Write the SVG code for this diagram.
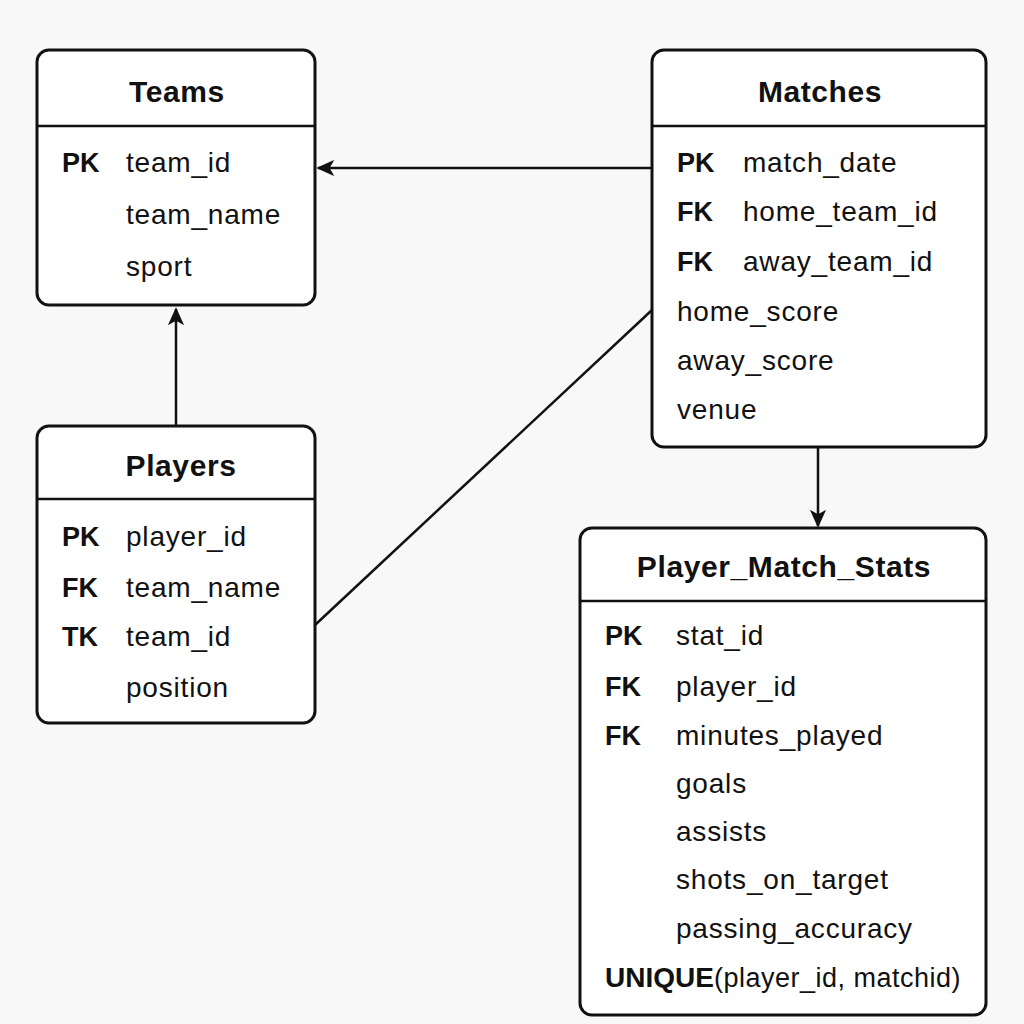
<svg xmlns="http://www.w3.org/2000/svg" width="1024" height="1024" viewBox="0 0 1024 1024">
<style>
.box{fill:#ffffff;stroke:#111;stroke-width:3}
.sep{stroke:#111;stroke-width:2.5}
.title{font-family:"Liberation Sans",Arial,sans-serif;font-weight:bold;font-size:30px;letter-spacing:0.6px;fill:#111;text-anchor:middle}
.key{font-family:"Liberation Sans",Arial,sans-serif;font-weight:bold;font-size:27px;fill:#111}
.f{font-family:"Liberation Sans",Arial,sans-serif;font-size:28px;letter-spacing:0.8px;fill:#111}
.c{stroke:#111;stroke-width:2.5;fill:none}
</style>
<defs>
<marker id="arr" viewBox="0 0 20 20" refX="18" refY="10" markerWidth="18" markerHeight="18" markerUnits="userSpaceOnUse" orient="auto">
<path d="M0,1 L20,10 L0,19 L5,10 Z" fill="#111"/>
</marker>
</defs>
<rect width="1024" height="1024" fill="#f8f8f8"/>
<g id="connectors">
<line class="c" x1="652" y1="168" x2="318" y2="168" marker-end="url(#arr)"/>
<line class="c" x1="176" y1="425" x2="176" y2="309" marker-end="url(#arr)"/>
<line class="c" x1="652" y1="310" x2="315" y2="625"/>
<line class="c" x1="818" y1="447" x2="818" y2="526" marker-end="url(#arr)"/>
</g>
<g id="teams">
<rect class="box" x="37" y="50" width="278" height="255" rx="12"/>
<line class="sep" x1="37" y1="126" x2="315" y2="126"/>
<text class="title" x="177" y="102">Teams</text>
<text class="key" x="62" y="172">PK</text><text class="f" x="126" y="172">team_id</text>
<text class="f" x="126" y="224">team_name</text>
<text class="f" x="126" y="276">sport</text>
</g>
<g id="matches">
<rect class="box" x="652" y="50" width="334" height="397" rx="12"/>
<line class="sep" x1="652" y1="126" x2="986" y2="126"/>
<text class="title" x="820" y="102">Matches</text>
<text class="key" x="677" y="172">PK</text><text class="f" x="743" y="172">match_date</text>
<text class="key" x="677" y="221">FK</text><text class="f" x="743" y="221">home_team_id</text>
<text class="key" x="677" y="271">FK</text><text class="f" x="743" y="271">away_team_id</text>
<text class="f" x="677" y="321">home_score</text>
<text class="f" x="677" y="370">away_score</text>
<text class="f" x="677" y="419">venue</text>
</g>
<g id="players">
<rect class="box" x="37" y="426" width="278" height="297" rx="12"/>
<line class="sep" x1="37" y1="499" x2="315" y2="499"/>
<text class="title" x="181" y="476">Players</text>
<text class="key" x="62" y="546">PK</text><text class="f" x="126" y="546">player_id</text>
<text class="key" x="62" y="597">FK</text><text class="f" x="126" y="597">team_name</text>
<text class="key" x="62" y="646">TK</text><text class="f" x="126" y="646">team_id</text>
<text class="f" x="126" y="697">position</text>
</g>
<g id="player_match_stats">
<rect class="box" x="580" y="528" width="406" height="487" rx="12"/>
<line class="sep" x1="580" y1="601" x2="986" y2="601"/>
<text class="title" x="784" y="577">Player_Match_Stats</text>
<text class="key" x="605" y="645">PK</text><text class="f" x="676" y="645">stat_id</text>
<text class="key" x="605" y="696">FK</text><text class="f" x="676" y="696">player_id</text>
<text class="key" x="605" y="745">FK</text><text class="f" x="676" y="745">minutes_played</text>
<text class="f" x="676" y="793">goals</text>
<text class="f" x="676" y="841">assists</text>
<text class="f" x="676" y="889">shots_on_target</text>
<text class="f" x="676" y="938">passing_accuracy</text>
<text x="605" y="987"><tspan class="key" style="font-size:28px">UNIQUE</tspan><tspan class="f" style="font-size:27px;letter-spacing:0.5px">(player_id, matchid)</tspan></text>
</g>
</svg>
